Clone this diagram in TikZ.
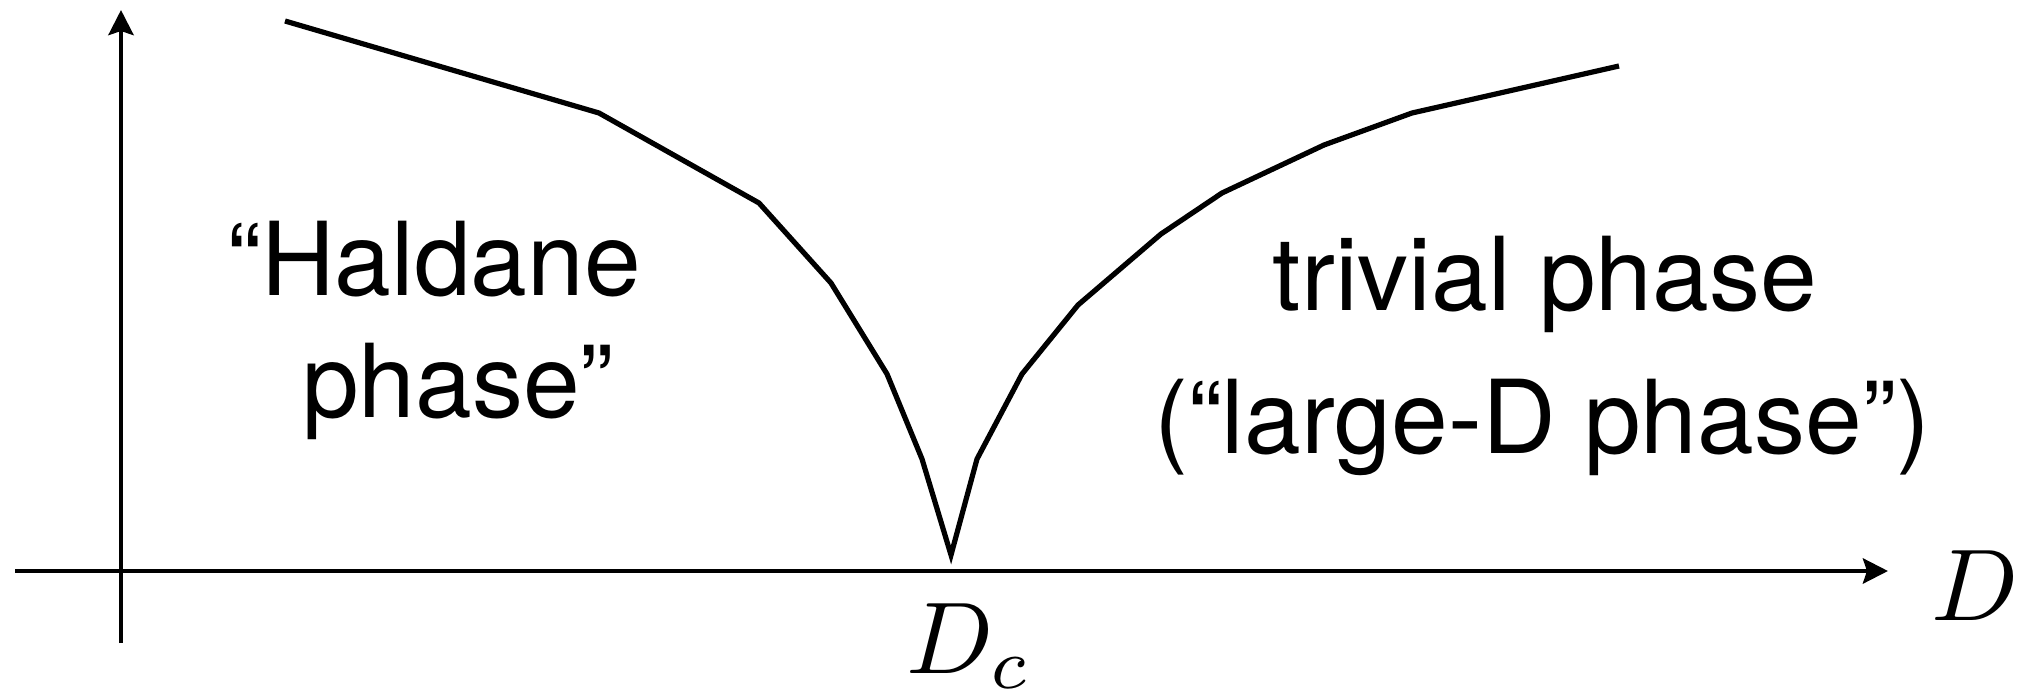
\documentclass[tikz,border=0pt]{standalone}
\usepackage{graphicx}
\usepackage{fontspec}
\newfontfamily\helv{TeX Gyre Heros}
\usetikzlibrary{arrows.meta}
\begin{document}
\begin{tikzpicture}[x=0.5pt,y=-0.5pt,
  axis/.style={line width=2.4pt,-{Stealth[length=12.5pt,width=12.5pt,inset=2pt]}},
  boundary/.style={line width=2.6pt},
  phaselabel/.style={font=\helv\fontsize{51}{61}\selectfont,anchor=base,inner sep=0pt},
  mathlabel/.style={anchor=base,inner sep=0pt}]
\useasboundingbox (0,0) rectangle (2017,695);
% axes
\coordinate (xstart) at (15,571);
\coordinate (xend) at (1888,571);
\coordinate (ystart) at (121,643);
\coordinate (yend) at (121,10);
\draw[axis] (xstart) -- (xend);
\draw[axis] (ystart) -- (yend);
% phase boundary
\draw[boundary] (285,21) -- (599,113) -- (759,203) -- (831,283) -- (887,374)
  -- (922,459) -- (951,555) -- (977,459) -- (1022,374) -- (1078,305)
  -- (1161,234) -- (1222,193) -- (1324,145) -- (1412,113) -- (1619,66);
% labels
\node[phaselabel] (hal1) at (451,295) {\llap{“}Haldane};
\node[phaselabel] (hal2) at (441,417) {phase\rlap{”}};
\node[phaselabel] (triv1) at (1545,310) {trivial phase};
\node[phaselabel] (triv2) at (1542,453) {(“large-D phase”)};
\node[mathlabel] (Dlab) at (1975,620) {\scalebox{5.1}{$D$}};
\node[mathlabel,anchor=base west] (Dclab) at (906,673) {\scalebox{5.1}{$D_c$}};
\end{tikzpicture}
\end{document}
